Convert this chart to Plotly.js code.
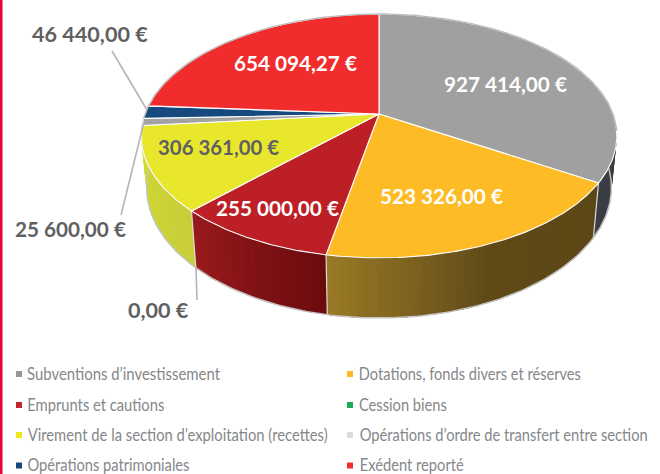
<!DOCTYPE html>
<html><head><meta charset="utf-8">
<script src="https://cdn.plot.ly/plotly-3.0.1.min.js"></script>
<style>html,body{margin:0;padding:0;background:#fff}#c{width:660px;height:474px}</style>
</head><body><div id="c"></div>
<script>
// Chart data
const categories = ["Subventions d’investissement","Dotations, fonds divers et réserves","Emprunts et cautions","Cession biens","Virement de la section d’exploitation (recettes)","Opérations d’ordre de transfert entre section","Opérations patrimoniales","Exédent reporté"];
const values = [927414, 523326, 255000, 0, 306361, 25600, 46440, 654094.27];
const valueLabels = ["927 414,00 €","523 326,00 €","255 000,00 €","0,00 €","306 361,00 €","25 600,00 €","46 440,00 €","654 094,27 €"];
const topColors = ["#a0a0a0","#fdbb26","#bd1f26","#1eaa55","#e9e72c","#a3a3a3","#17497e","#f02c2c"];
const legendColors = ["#949598","#fdb927","#c1272d","#1eaa55","#ede71f","#dcdcdc","#174a7c","#ee3130"];
// Drawn width of each legend text, in page units
const legendWidths = [193,222,137,88,300,288,162,104];

// Perspective parameters of the disc (page units)
const cx=379, cy=114, a=234, b=118, k=0.18, depth=50, sx=0.977, sy=1.07;
const rad=d=>d*Math.PI/180;
function topPt(d){const X=Math.sin(rad(d)),Y=Math.cos(rad(d)),w=1+k*Y;return [cx+a*X/w, cy-b*Y/w];}
function botPt(d){const X=Math.sin(rad(d)),Y=Math.cos(rad(d)),w=1+k*Y;return [cx+sx*a*X/w, cy+depth-sy*b*Y/w];}
function arc(f,d0,d1,step){const n=Math.max(1,Math.ceil(Math.abs(d1-d0)/step)),o=[];for(let i=0;i<=n;i++)o.push(f(d0+(d1-d0)*i/n));return o;}
const hex=h=>[1,3,5].map(i=>parseInt(h.substr(i,2),16));
function mix(stops,t){for(let i=1;i<stops.length;i++){if(t<=stops[i][0]){const p=stops[i-1],q=stops[i],u=(t-p[0])/(q[0]-p[0]),A=hex(p[1]),B=hex(q[1]);return 'rgb('+A.map((v,j)=>Math.round(v+(B[j]-v)*u)).join(',')+')';}}return stops[stops.length-1][1];}

const sideStops = {
 0:[[0,"#3b3d44"],[1,"#3b3d44"]],
 1:[[0,"#5c4716"],[0.5,"#5e4917"],[1,"#9b7a26"]],
 2:[[0,"#6b0b0e"],[1,"#9a1a1c"]],
 4:[[0,"#c8cd3a"],[1,"#d2dc2e"]],
 5:[[0,"#d2dc2e"],[1,"#d2dc2e"]],
 6:[[0,"#d2dc2e"],[1,"#d2dc2e"]]
};

const total=values.reduce((s,v)=>s+v,0);
let acc=0; const spans=values.map(v=>{const s=acc;acc+=v/total*360;return [s,acc];});
const traces=[];
function poly(pts,fill,lineColor,w,name){traces.push({type:'scatter',mode:'lines',x:pts.map(p=>p[0]),y:pts.map(p=>p[1]),fill:fill?'toself':'none',fillcolor:fill||undefined,line:{color:lineColor,width:w},hoverinfo:name?'text':'skip',text:name||undefined,showlegend:false});}

// Front wall, drawn as overlapping strips to make the shading
spans.forEach((s,i)=>{
  if(!sideStops[i]||values[i]===0)return;
  const lo=Math.max(s[0],90),hi=Math.min(s[1],270);
  if(hi<=lo)return;
  const n=Math.max(1,Math.ceil((hi-lo)/1.5));
  for(let j=0;j<n;j++){
    const d0=lo+(hi-lo)*j/n,d1=hi;
    const col=mix(sideStops[i],(j+0.5)/n);
    const pts=[...arc(topPt,d0,d1,1),...arc(botPt,d1,d0,1)];
    poly(pts,col,col,0);
  }
});
// Wall separators and lower rim
spans.forEach((s,i)=>{
  if(values[i]===0||s[0]<90||s[0]>262)return;
  poly([topPt(s[0]),botPt(s[0])],null,"#dcdcdc",1.2);
});
poly(arc(botPt,92,268,1),null,"#c4c4c4",1.5);

// Top faces
spans.forEach((s,i)=>{
  if(values[i]===0)return;
  const pts=[[cx,cy],...arc(topPt,s[0],s[1],0.5),[cx,cy]];
  poly(pts,topColors[i],"#ffffff",1.1,categories[i]+": "+valueLabels[i]);
});
// Rim at back
poly(arc(topPt,262,458,1),null,"#bcbcbc",1.4);
poly(arc(topPt,225,268,1),null,"#f2f2f2",1);

// Leader lines
const leaderColor="#b5b5b5";
const leaders=[[[112,51],[147,110]],[[121,215],[144,122]],[[197,300],[196,268]]];
leaders.forEach(l=>poly(l,null,leaderColor,1.6));

// Legend markers
const legX=[19,350], legY=[374,405,435,465.5], legText=[27,359];
traces.push({type:'scatter',mode:'markers',
  x:categories.map((c,i)=>legX[i%2]),
  y:categories.map((c,i)=>legY[Math.floor(i/2)]),
  marker:{symbol:'square',size:6,color:legendColors,line:{width:0}},
  hoverinfo:'skip',showlegend:false});

const dark="#5f6062", white="#ffffff";
const labelPos=[[505,84,white,20.7],[441.5,196,white,20.7],[277.5,208,white,20.7],[158.5,310,dark,21.6],[218.5,147,dark,20.4],[70.5,229,dark,20.7],[90,34,dark,21.6],[295,63,white,20.7]];
const annotations=labelPos.map((p,i)=>({xref:'x',yref:'y',x:p[0],y:p[1],text:'<b>'+valueLabels[i]+'</b>',showarrow:false,xanchor:'center',yanchor:'middle',font:{family:'Lato, sans-serif',size:p[3],color:p[2]}}));
const nValueLabels=annotations.length;
categories.forEach((c,i)=>annotations.push({xref:'x',yref:'y',x:legText[i%2]+legendWidths[i]/2,y:legY[Math.floor(i/2)]-1.5,text:c,showarrow:false,xanchor:'center',yanchor:'middle',font:{family:'Lato, sans-serif',size:18,color:'#85878a'}}));

Plotly.newPlot('c',traces,{
  width:660,height:474,margin:{l:0,r:0,t:0,b:0},
  paper_bgcolor:'#fff',plot_bgcolor:'#fff',showlegend:false,
  xaxis:{range:[0,660],visible:false,fixedrange:true},
  yaxis:{range:[474,0],visible:false,fixedrange:true},
  shapes:[{type:'rect',xref:'paper',yref:'paper',x0:0,x1:2.5/660,y0:0,y1:1,fillcolor:'#e8003c',line:{width:0}}],
  annotations:annotations
},{displayModeBar:false}).then(gd=>{
  // The reference's legend face is condensed: fit each text to its measured width
  const texts=gd.querySelectorAll('.annotation-text');
  categories.forEach((c,i)=>{
    const t=texts[nValueLabels+i];
    if(t){t.setAttribute('textLength',legendWidths[i]);t.setAttribute('lengthAdjust','spacingAndGlyphs');}
  });
});
</script></body></html>
